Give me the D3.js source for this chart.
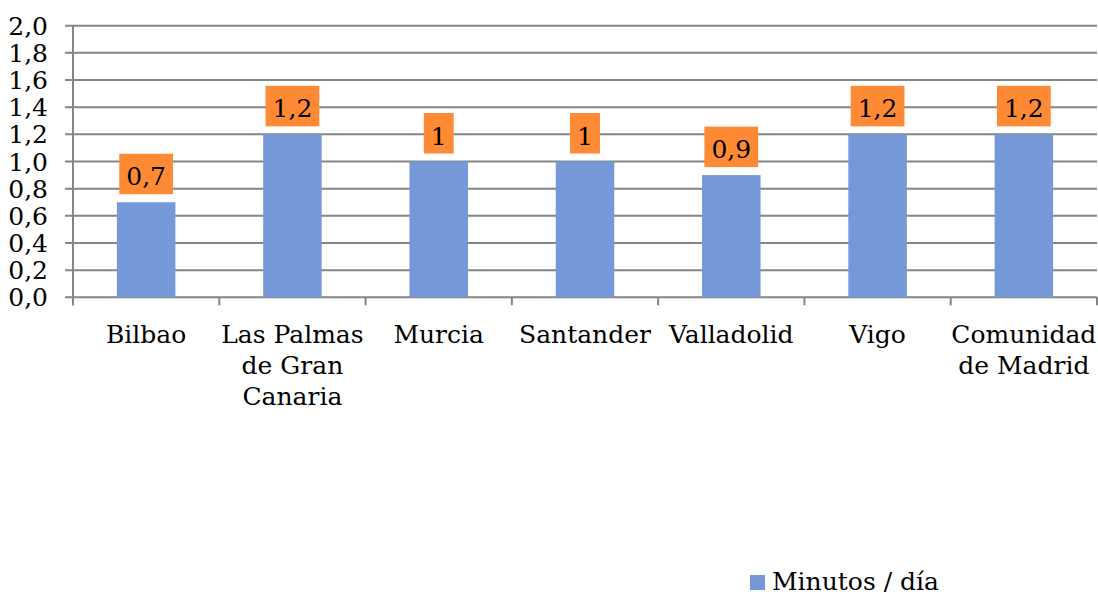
<!DOCTYPE html>
<html>
<head>
<meta charset="utf-8">
<script src="https://cdn.jsdelivr.net/npm/d3@7"></script>
<style>
  html, body { margin: 0; padding: 0; background: #fff; }
  svg { display: block; }
  text { font-family: "DejaVu Serif", serif; fill: #000; }
</style>
</head>
<body>
<svg id="chart" width="1098" height="597"></svg>
<script>
// ---- data ----
const categories = [
  ["Bilbao"],
  ["Las Palmas", "de Gran", "Canaria"],
  ["Murcia"],
  ["Santander"],
  ["Valladolid"],
  ["Vigo"],
  ["Comunidad", "de Madrid"]
];
const values = [0.7, 1.2, 1, 1, 0.9, 1.2, 1.2];
const yTicks = [0, 0.2, 0.4, 0.6, 0.8, 1.0, 1.2, 1.4, 1.6, 1.8, 2.0];
const seriesName = "Minutos / día";

// ---- layout ----
const svg = d3.select("#chart");
const plotLeft = 73, plotRight = 1097, plotTop = 25.7, plotBottom = 297.3;
const fontSize = 25;
const gridColor = "#858585";
const barColor = "#7599D8";
const labelColor = "#FF8A36";

const x = d3.scaleBand()
  .domain(d3.range(categories.length))
  .range([plotLeft, plotRight])
  .paddingInner(0.6)
  .paddingOuter(0.3);
const y = d3.scaleLinear().domain([0, 2]).range([plotBottom, plotTop]);

const commaFmt = v => String(v).replace(".", ",");
const tickFmt = v => d3.format(".1f")(v).replace(".", ",");

// gridlines with outward tick marks
svg.append("g").selectAll("line").data(yTicks).join("line")
  .attr("x1", plotLeft - 8).attr("x2", plotRight)
  .attr("y1", d => y(d)).attr("y2", d => y(d))
  .attr("stroke", gridColor).attr("stroke-width", 2);

// y axis line
svg.append("line")
  .attr("x1", plotLeft).attr("x2", plotLeft)
  .attr("y1", plotTop).attr("y2", plotBottom + 8)
  .attr("stroke", gridColor).attr("stroke-width", 2);

// category tick marks at band boundaries
const bounds = d3.range(categories.length + 1).map(i => plotLeft + i * x.step());
svg.append("g").selectAll("line").data(bounds).join("line")
  .attr("x1", d => d).attr("x2", d => d)
  .attr("y1", plotBottom).attr("y2", plotBottom + 8)
  .attr("stroke", gridColor).attr("stroke-width", 2);

// y tick labels
svg.append("g").selectAll("text").data(yTicks).join("text")
  .attr("x", 48).attr("y", d => y(d))
  .attr("dy", "0.36em")
  .attr("text-anchor", "end")
  .attr("font-size", fontSize)
  .text(tickFmt);

// bars
svg.append("g").selectAll("rect").data(values).join("rect")
  .attr("x", (d, i) => x(i))
  .attr("width", x.bandwidth())
  .attr("y", d => y(d))
  .attr("height", d => plotBottom - y(d))
  .attr("fill", barColor);

// data labels
const lab = svg.append("g").selectAll("g").data(values).join("g");
lab.each(function(d, i) {
  const g = d3.select(this);
  const cx = x(i) + x.bandwidth() / 2;
  const boxBottom = y(d) - 8;
  const t = g.append("text")
    .attr("x", cx).attr("y", boxBottom - 9)
    .attr("text-anchor", "middle")
    .attr("font-size", fontSize)
    .text(commaFmt(d));
  const w = t.node().getComputedTextLength() + 14;
  g.insert("rect", "text")
    .attr("x", cx - w / 2).attr("width", w)
    .attr("y", boxBottom - 40.5).attr("height", 40.5)
    .attr("fill", labelColor);
});

// category labels
const cat = svg.append("g").selectAll("text").data(categories).join("text")
  .attr("text-anchor", "middle")
  .attr("font-size", fontSize);
cat.each(function(lines, i) {
  const cx = x(i) + x.bandwidth() / 2;
  d3.select(this).selectAll("tspan").data(lines).join("tspan")
    .attr("x", cx)
    .attr("y", (l, j) => 342.7 + j * 31.2)
    .text(l => l);
});

// legend
svg.append("rect")
  .attr("x", 750).attr("y", 575).attr("width", 15).attr("height", 15)
  .attr("fill", barColor);
svg.append("text")
  .attr("x", 772).attr("y", 590)
  .attr("font-size", fontSize)
  .text(seriesName);
</script>
</body>
</html>
